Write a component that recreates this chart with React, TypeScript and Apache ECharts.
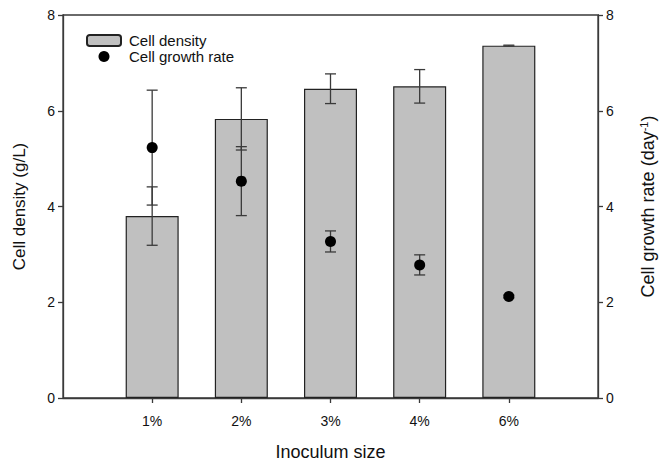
import React, { useEffect, useRef } from "react";
import * as echarts from "echarts";

// Inoculum sizes on the x axis
const categories = ["1%", "2%", "3%", "4%", "6%"];
// Cell density (g/L) with standard deviation
const densityValues = [3.8, 5.83, 6.46, 6.51, 7.36];
const densityErrors = [0.61, 0.65, 0.31, 0.35, 0.01];
// Cell growth rate (day^-1) with standard deviation
const growthValues = [5.23, 4.53, 3.27, 2.78, 2.12];
const growthErrors = [1.2, 0.72, 0.22, 0.21, 0.03];

const FONT = "'Liberation Sans', Arial, sans-serif";
const AXIS_COLOR = "#3a3a3a";

function errorBarSeries(values: number[], errors: number[], yAxisIndex: number) {
  const data = values.map((v, i) => [i + 1, v - errors[i], v + errors[i]]);
  return {
    type: "custom",
    yAxisIndex,
    z: 3,
    silent: true,
    data,
    renderItem: (params: any, api: any) => {
      const x = api.value(0);
      const top = api.coord([x, api.value(2)]);
      const bottom = api.coord([x, api.value(1)]);
      const half = 5.5;
      const style = { stroke: AXIS_COLOR, lineWidth: 1.3 };
      return {
        type: "group",
        children: [
          { type: "line", shape: { x1: top[0], y1: top[1], x2: bottom[0], y2: bottom[1] }, style },
          { type: "line", shape: { x1: top[0] - half, y1: top[1], x2: top[0] + half, y2: top[1] }, style },
          { type: "line", shape: { x1: bottom[0] - half, y1: bottom[1], x2: bottom[0] + half, y2: bottom[1] }, style },
        ],
      };
    },
  };
}

export default function App() {
  const ref = useRef<HTMLDivElement>(null);

  useEffect(() => {
    document.body.style.margin = "0";
    if (!ref.current) return;
    const chart = echarts.init(ref.current, null, { renderer: "svg" });

    const yAxisCommon = {
      type: "value",
      min: 0,
      max: 8,
      interval: 2,
      axisLine: { show: true, lineStyle: { color: AXIS_COLOR, width: 1.3 } },
      axisTick: { show: true, length: 5, lineStyle: { color: AXIS_COLOR, width: 1.3 } },
      axisLabel: { color: "#111", fontSize: 14, fontFamily: FONT, margin: 8 },
      splitLine: { show: false },
      nameLocation: "middle",
    };

    chart.setOption({
      animation: false,
      backgroundColor: "#fff",
      grid: {
        left: 63,
        right: 74,
        top: 15,
        bottom: 63,
        outerBoundsMode: "none",
        show: true,
        borderColor: AXIS_COLOR,
        borderWidth: 1.3,
      },
      legend: {
        orient: "vertical",
        left: 81,
        top: 28,
        itemWidth: 34,
        itemHeight: 11,
        itemGap: 1,
        data: ["Cell density", "Cell growth rate"],
        textStyle: { color: "#111", fontSize: 15, lineHeight: 15, fontFamily: FONT, padding: [0, 0, 0, 3] },
      },
      xAxis: {
        type: "value",
        min: 0,
        max: 6,
        interval: 1,
        name: "Inoculum size",
        nameLocation: "middle",
        nameGap: 45,
        nameTextStyle: { color: "#111", fontSize: 18, fontFamily: FONT },
        axisLine: { show: true, lineStyle: { color: AXIS_COLOR, width: 1.3 } },
        axisTick: {
          show: true,
          length: 5,
          customValues: [1, 2, 3, 4, 5],
          lineStyle: { color: AXIS_COLOR, width: 1.3 },
        },
        axisLabel: {
          color: "#111",
          fontSize: 14,
          fontFamily: FONT,
          margin: 16,
          customValues: [1, 2, 3, 4, 5],
          formatter: (v: number) => categories[Math.round(v) - 1] ?? "",
        },
        splitLine: { show: false },
      },
      yAxis: [
        {
          ...yAxisCommon,
          position: "left",
          name: "Cell density (g/L)",
          nameGap: 35,
          nameTextStyle: { color: "#111", fontSize: 17, fontFamily: FONT },
        },
        {
          ...yAxisCommon,
          position: "right",
          name: "{a|Cell growth rate (day}{s|-1}{a|)}",
          nameGap: 40,
          nameTextStyle: {
            color: "#111",
            fontFamily: FONT,
            rich: {
              a: { fontSize: 18, fontFamily: FONT, color: "#111" },
              s: { fontSize: 11, fontFamily: FONT, color: "#111", verticalAlign: "top", padding: [0, 0, 8, 0] },
            },
          },
        },
      ],
      series: [
        {
          name: "Cell density",
          type: "bar",
          yAxisIndex: 0,
          barWidth: 53,
          z: 2,
          legendIcon: "rect",
          itemStyle: { color: "#c0c0c0", borderColor: "#222", borderWidth: 1.2 },
          data: densityValues.map((v, i) => [i + 1, v]),
        },
        errorBarSeries(densityValues, densityErrors, 0),
        errorBarSeries(growthValues, growthErrors, 1),
        {
          name: "Cell growth rate",
          type: "scatter",
          yAxisIndex: 1,
          symbol: "circle",
          symbolSize: 11,
          z: 4,
          itemStyle: { color: "#000", opacity: 1 },
          data: growthValues.map((v, i) => [i + 1, v]),
        },
      ],
    });

    return () => chart.dispose();
  }, []);

  return <div ref={ref} style={{ width: 672, height: 461 }} />;
}
